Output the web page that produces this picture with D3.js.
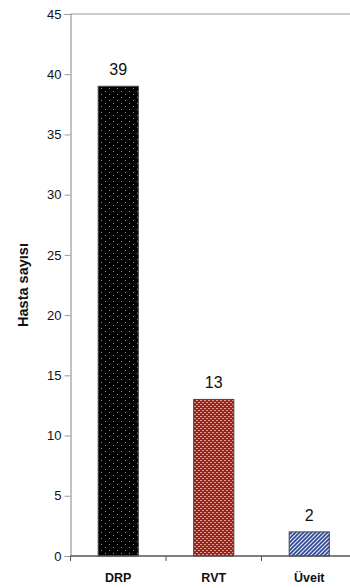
<!DOCTYPE html>
<html><head><meta charset="utf-8">
<script src="https://cdn.jsdelivr.net/npm/d3@7"></script>
<style>body{margin:0;background:#fff}svg{display:block}text{font-family:"Liberation Sans",Arial,sans-serif}</style>
</head><body><svg id="c" width="350" height="588"></svg>
<script>
const categories = ["DRP", "RVT", "Üveit"];
const values = [39, 13, 2];
const yTicks = [0, 5, 10, 15, 20, 25, 30, 35, 40, 45];
const yLabel = "Hasta sayısı";
const patternIds = ["pDots", "pCheck", "pStripe"];

const svg = d3.select("#c");
const m = {left: 70.5, top: 14, bottom: 556};
const x = d3.scaleBand().domain(categories).range([m.left, m.left + 3 * 95.5]).paddingInner(0.58).paddingOuter(0.29);
const y = d3.scaleLinear().domain([0, 45]).range([m.bottom, m.top]);

const defs = svg.append("defs");
const p1 = defs.append("pattern").attr("id", "pDots").attr("patternUnits", "userSpaceOnUse").attr("width", 8).attr("height", 6);
p1.append("rect").attr("width", 8).attr("height", 6).attr("fill", "#000");
p1.append("rect").attr("x", 1).attr("y", 1).attr("width", 1).attr("height", 1).attr("fill", "#8a8aa0");
p1.append("rect").attr("x", 5).attr("y", 4).attr("width", 1).attr("height", 1).attr("fill", "#8a8aa0");
const p2 = defs.append("pattern").attr("id", "pCheck").attr("patternUnits", "userSpaceOnUse").attr("width", 4).attr("height", 4);
p2.append("rect").attr("width", 4).attr("height", 4).attr("fill", "#9a2220");
p2.append("rect").attr("x", 0).attr("y", 0).attr("width", 2).attr("height", 1).attr("fill", "#e0a090");
p2.append("rect").attr("x", 2).attr("y", 2).attr("width", 2).attr("height", 1).attr("fill", "#e0a090");
const p3 = defs.append("pattern").attr("id", "pStripe").attr("patternUnits", "userSpaceOnUse").attr("width", 4).attr("height", 4);
p3.append("rect").attr("width", 4).attr("height", 4).attr("fill", "#e8ecf6");
p3.append("path").attr("d", "M-1,1 L1,-1 M0,4 L4,0 M3,5 L5,3").attr("stroke", "#2e4590").attr("stroke-width", 1.6);

svg.append("line").attr("x1", m.left).attr("x2", 350).attr("y1", m.top).attr("y2", m.top).attr("stroke", "#9a9a9a").attr("stroke-width", 1.2);

const ya = svg.append("g").attr("transform", `translate(${m.left},0)`)
  .call(d3.axisLeft(y).tickValues(yTicks).tickSize(6).tickPadding(3));
ya.select(".domain").attr("stroke", "#9a9a9a").attr("stroke-width", 1.2);
ya.selectAll(".tick line").attr("stroke", "#9a9a9a");
ya.selectAll("text").attr("font-size", 13).attr("fill", "#111").attr("font-family", "Liberation Sans, Arial, sans-serif");

svg.selectAll("rect.bar").data(values).enter().append("rect").attr("class", "bar")
  .attr("x", (d, i) => x(categories[i]))
  .attr("width", x.bandwidth())
  .attr("y", d => y(d))
  .attr("height", d => y(0) - y(d))
  .attr("fill", (d, i) => `url(#${patternIds[i]})`)
  .attr("stroke", "#444").attr("stroke-width", 1);

svg.selectAll("text.val").data(values).enter().append("text").attr("class", "val")
  .attr("x", (d, i) => x(categories[i]) + x.bandwidth() / 2)
  .attr("y", d => y(d) - 11)
  .attr("text-anchor", "middle").attr("font-size", 16).attr("fill", "#111")
  .text(d => d);

const xa = svg.append("g").attr("transform", `translate(0,${m.bottom})`);
const xBounds = [m.left].concat(categories.map(c => x(c) - x.step() * x.paddingInner() / 2 + x.step()));
xa.append("line").attr("x1", m.left).attr("x2", 350).attr("y1", 0).attr("y2", 0).attr("stroke", "#555").attr("stroke-width", 1.3);
xa.selectAll("line.tk").data(xBounds).enter().append("line").attr("class", "tk")
  .attr("x1", d => d).attr("x2", d => d).attr("y1", 0).attr("y2", 5).attr("stroke", "#555");
xa.selectAll("text").data(categories).enter().append("text")
  .attr("x", d => x(d) + x.bandwidth() / 2).attr("y", 26)
  .attr("text-anchor", "middle").attr("font-size", 12.5).attr("font-weight", "bold").attr("fill", "#111")
  .text(d => d);

svg.append("text").attr("transform", `translate(28,${(m.top + m.bottom) / 2}) rotate(-90)`)
  .attr("text-anchor", "middle").attr("font-size", 14.5).attr("font-weight", "bold").attr("fill", "#111")
  .text(yLabel);
</script></body></html>
